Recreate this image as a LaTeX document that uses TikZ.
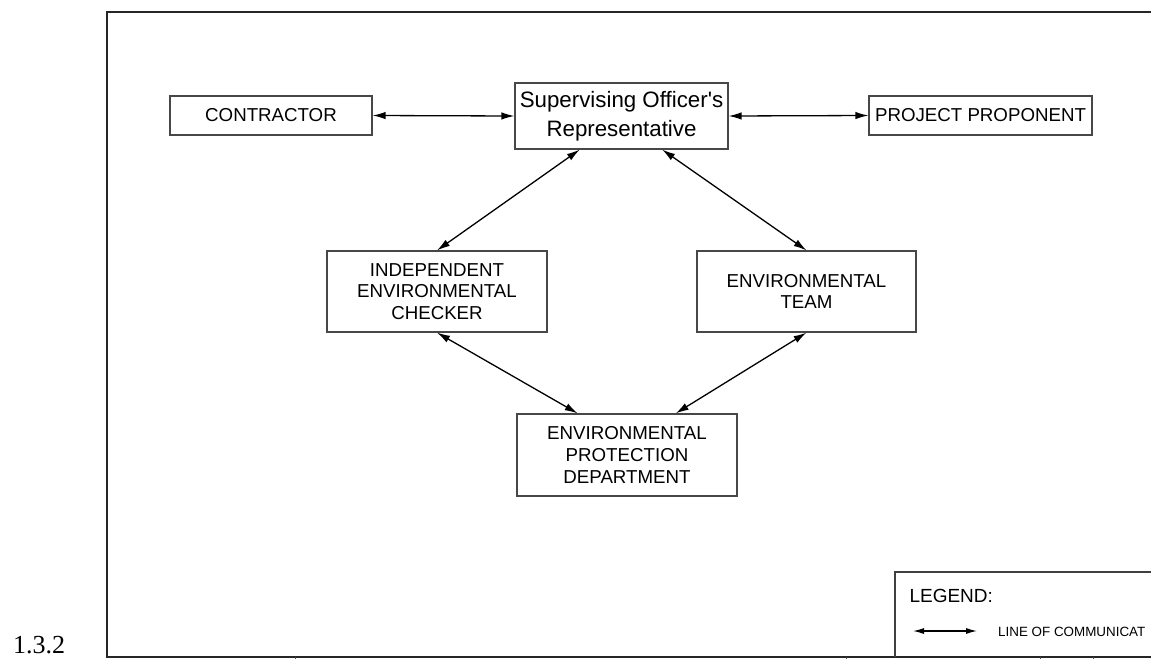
\documentclass[tikz,border=0pt]{standalone}
\usepackage{fontspec}
\setmainfont{Liberation Sans}
\newfontfamily\serifnum{Liberation Serif}
\usetikzlibrary{arrows.meta,calc}
\begin{document}
\begin{tikzpicture}[x=1pt,y=-1pt,
  box/.style={draw=black!72,line width=1.2pt,rectangle,inner sep=0pt,align=center,
    font=\fontsize{18.7}{21.7}\selectfont},
  comm/.style={line width=1.3pt,{Latex[length=13pt,width=7.5pt]}-{Latex[length=13pt,width=7.5pt]}},
  frameline/.style={line width=1.8pt,black!85},
  tick/.style={line width=1pt,black!70}]
\useasboundingbox (0,0) rectangle (1151,659);
\fill[white] (0,0) rectangle (1151,659);
% outer frame
\draw[frameline] (1151,12) -- (107,12) -- (107,657) -- (1151,657);
\foreach \tx in {295,846,1040,1093}{\draw[tick] (\tx,657) -- (\tx,659);}
% legend box
\draw[line width=1.3pt,black!75] (895,657) -- (895,572) -- (1151,572);
\node[anchor=base west,font=\fontsize{19}{22}\selectfont] (legtitle) at (906,602) {LEGEND:};
\coordinate (la) at (913,631);
\coordinate (lb) at (977,631);
\draw[line width=1.2pt,{Latex[length=11pt,width=6pt]}-{Latex[length=11pt,width=6pt]}] (la) -- (lb);
\node[anchor=base west,inner sep=0pt,font=\fontsize{13.4}{15}\selectfont] (legtext) at (998,636) {LINE OF COMMUNICAT};
% figure number
\node[anchor=base west,inner sep=0pt,font=\serifnum\fontsize{26}{28}\selectfont] (fignum) at (13,653) {1.3.2};
% nodes
\node[box,minimum width=202pt,minimum height=39pt] (con) at (271,115.5) {CONTRACTOR};
\node[box,minimum width=213pt,minimum height=66pt,font=\fontsize{22.3}{29}\selectfont] (sor) at (621.5,116) {Supervising Officer\textquotesingle s\\Representative};
\node[box,minimum width=223pt,minimum height=39pt] (pp) at (980.5,115.5) {PROJECT PROPONENT};
\node[box,minimum width=220pt,minimum height=81pt] (iec) at (437,291.5) {INDEPENDENT\\ENVIRONMENTAL\\CHECKER};
\node[box,minimum width=219pt,minimum height=81pt] (et) at (806.5,291.5) {ENVIRONMENTAL\\TEAM};
\node[box,minimum width=220pt,minimum height=82pt] (epd) at (627,455) {ENVIRONMENTAL\\PROTECTION\\DEPARTMENT};
% connectors
\draw[comm] (con.east) -- (sor.west);
\draw[comm] (sor.east) -- (pp.west);
\draw[comm] ($(sor.south west)!0.305!(sor.south east)$) -- (iec.north);
\draw[comm] ($(sor.south west)!0.69!(sor.south east)$) -- (et.north);
\draw[comm] (iec.south) -- ($(epd.north west)!0.277!(epd.north east)$);
\draw[comm] (et.south) -- ($(epd.north west)!0.72!(epd.north east)$);
\end{tikzpicture}
\end{document}
